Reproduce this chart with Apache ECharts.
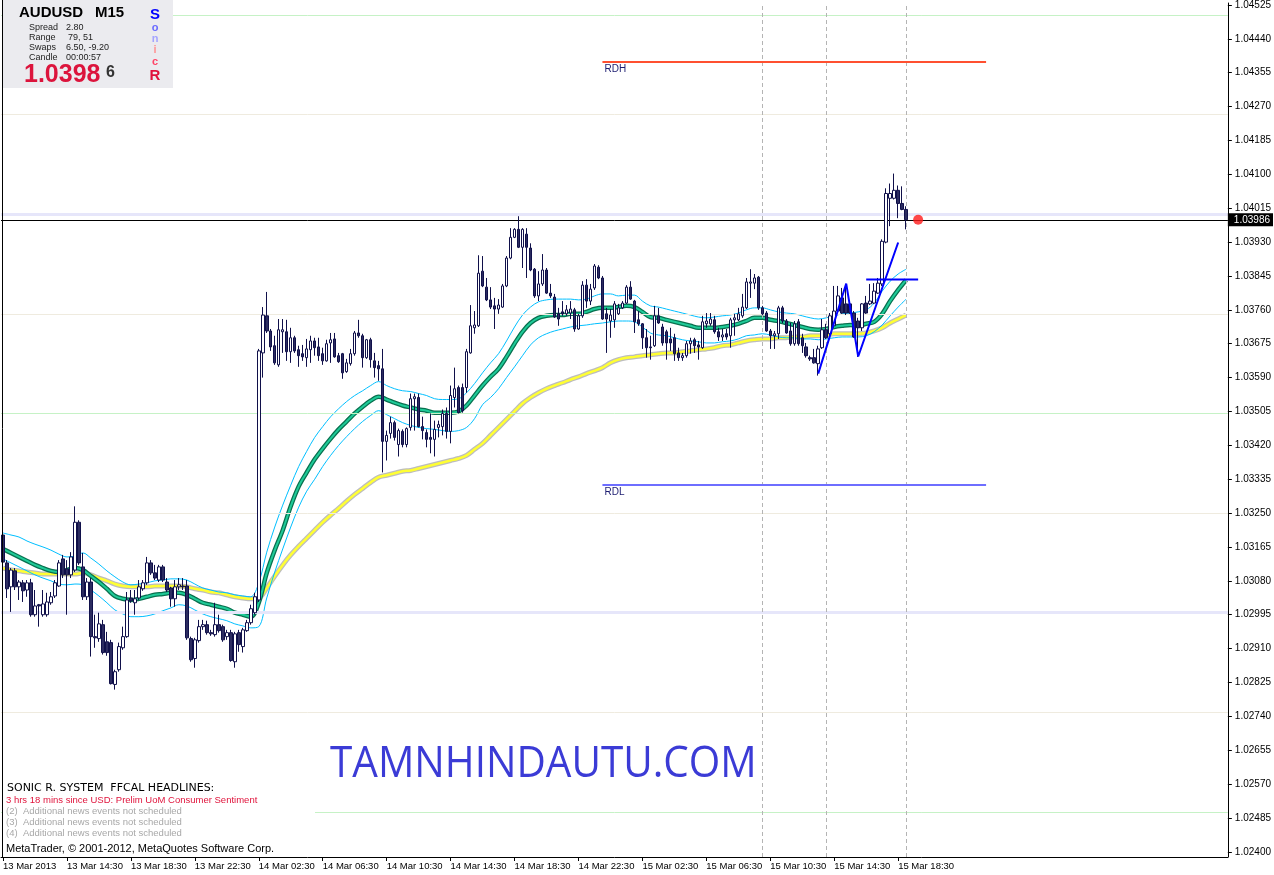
<!DOCTYPE html>
<html><head><meta charset="utf-8">
<script src="https://cdn.jsdelivr.net/npm/echarts@6/dist/echarts.min.js"></script>
<style>html,body{margin:0;padding:0;background:#fff;}#c{width:1274px;height:875px;}</style>
</head><body><div id="c"></div>
<script>
// ---------- DATA ----------
const NUM_SLOTS = 307; // 227 bars + empty shift space on the right
const startDay = 13, startMin = 10 * 60 + 30; // first bar: 13 Mar 2013 10:30, M15
const xTickIndex = [0,16,32,48,64,80,96,112,128,144,160,176,192,208,224];
const xTickLabels = ['13 Mar 2013','13 Mar 14:30','13 Mar 18:30','13 Mar 22:30','14 Mar 02:30','14 Mar 06:30','14 Mar 10:30','14 Mar 14:30','14 Mar 18:30','14 Mar 22:30','15 Mar 02:30','15 Mar 06:30','15 Mar 10:30','15 Mar 14:30','15 Mar 18:30'];
const yTicks = [1.04525,1.04440,1.04355,1.04270,1.04185,1.04100,1.04015,1.03930,1.03845,1.03760,1.03675,1.03590,1.03505,1.03420,1.03335,1.03250,1.03165,1.03080,1.02995,1.02910,1.02825,1.02740,1.02655,1.02570,1.02485,1.02400];

// [open, close, low, high]
const candles = [
[1.03195,1.03127,1.03057,1.03205],[1.03125,1.03060,1.03037,1.03132],[1.03065,1.03107,1.03002,1.03112],[1.03105,1.03065,1.03057,1.03112],[1.03065,1.03077,1.03032,1.03082],
[1.03075,1.03055,1.03027,1.03082],[1.03057,1.03075,1.03040,1.03082],[1.03075,1.02995,1.02990,1.03085],[1.02995,1.03017,1.02990,1.03057],[1.03020,1.03017,1.02965,1.03022],
[1.02995,1.03022,1.02990,1.03057],[1.02995,1.03027,1.02990,1.03050],[1.03025,1.03040,1.03020,1.03052],[1.03042,1.03075,1.03037,1.03082],[1.03067,1.03125,1.03065,1.03132],
[1.03135,1.03095,1.03087,1.03145],[1.03110,1.03095,1.02995,1.03132],[1.03095,1.03140,1.03087,1.03152],[1.03107,1.03227,1.03102,1.03267],[1.03227,1.03125,1.03120,1.03232],
[1.03115,1.03040,1.03032,1.03150],[1.03040,1.03077,1.03032,1.03087],[1.03077,1.02940,1.02890,1.03087],[1.02940,1.02937,1.02912,1.02995],[1.02935,1.02972,1.02927,1.03000],
[1.02970,1.02900,1.02895,1.02982],[1.02927,1.02900,1.02892,1.02952],[1.02925,1.02822,1.02820,1.02932],[1.02820,1.02852,1.02807,1.02857],[1.02857,1.02915,1.02852,1.02925],
[1.02912,1.02940,1.02907,1.02965],[1.02940,1.03032,1.02937,1.03052],[1.03037,1.03030,1.03025,1.03057],[1.03025,1.03035,1.02995,1.03057],[1.03037,1.03065,1.03032,1.03082],
[1.03060,1.03075,1.03055,1.03082],[1.03075,1.03125,1.03070,1.03140],[1.03125,1.03100,1.03095,1.03132],[1.03100,1.03087,1.03082,1.03120],[1.03082,1.03115,1.03077,1.03120],
[1.03115,1.03082,1.03077,1.03120],[1.03077,1.03057,1.03052,1.03087],[1.03062,1.03035,1.03015,1.03065],[1.03035,1.03065,1.03015,1.03082],[1.03065,1.03070,1.03057,1.03087],
[1.03067,1.03065,1.03057,1.03087],[1.03067,1.02937,1.02932,1.03082],[1.02935,1.02882,1.02877,1.02940],[1.02885,1.02932,1.02862,1.02937],[1.02930,1.02965,1.02925,1.02982],
[1.02965,1.02970,1.02957,1.02982],[1.02970,1.02950,1.02945,1.02980],[1.02950,1.02947,1.02942,1.02957],[1.02945,1.02970,1.02940,1.03025],[1.02970,1.02955,1.02950,1.02995],
[1.02965,1.02932,1.02927,1.02970],[1.02940,1.02950,1.02932,1.02957],[1.02950,1.02880,1.02877,1.02957],[1.02877,1.02947,1.02862,1.02952],[1.02950,1.02920,1.02902,1.02957],
[1.02915,1.02957,1.02900,1.02962],[1.02955,1.02975,1.02952,1.02982],[1.02975,1.03010,1.02970,1.03020],[1.03000,1.03040,1.02995,1.03050],[1.03032,1.03657,1.03027,1.03662],
[1.03652,1.03747,1.03590,1.03767],[1.03745,1.03707,1.03702,1.03805],[1.03707,1.03667,1.03657,1.03712],[1.03670,1.03627,1.03622,1.03695],[1.03622,1.03710,1.03617,1.03737],
[1.03705,1.03710,1.03652,1.03737],[1.03705,1.03655,1.03632,1.03735],[1.03655,1.03690,1.03627,1.03715],[1.03690,1.03657,1.03652,1.03695],[1.03660,1.03645,1.03617,1.03670],
[1.03650,1.03642,1.03632,1.03672],[1.03640,1.03662,1.03617,1.03687],[1.03660,1.03682,1.03627,1.03695],[1.03682,1.03665,1.03645,1.03690],[1.03667,1.03645,1.03632,1.03690],
[1.03650,1.03632,1.03622,1.03665],[1.03632,1.03675,1.03630,1.03685],[1.03677,1.03685,1.03627,1.03702],[1.03687,1.03642,1.03640,1.03702],[1.03645,1.03630,1.03627,1.03652],
[1.03650,1.03602,1.03587,1.03652],[1.03605,1.03627,1.03602,1.03637],[1.03625,1.03650,1.03620,1.03662],[1.03650,1.03702,1.03645,1.03707],[1.03702,1.03695,1.03690,1.03735],
[1.03695,1.03640,1.03615,1.03700],[1.03640,1.03685,1.03637,1.03687],[1.03685,1.03635,1.03615,1.03690],[1.03632,1.03615,1.03590,1.03652],[1.03620,1.03612,1.03582,1.03632],
[1.03612,1.03430,1.03352,1.03662],[1.03430,1.03445,1.03382,1.03457],[1.03450,1.03477,1.03437,1.03492],[1.03477,1.03440,1.03432,1.03482],[1.03422,1.03457,1.03392,1.03462],
[1.03455,1.03422,1.03415,1.03460],[1.03422,1.03462,1.03415,1.03465],[1.03465,1.03537,1.03457,1.03550],[1.03537,1.03542,1.03457,1.03550],[1.03540,1.03467,1.03465,1.03550],
[1.03467,1.03457,1.03435,1.03492],[1.03452,1.03435,1.03415,1.03460],[1.03440,1.03435,1.03400,1.03500],[1.03435,1.03460,1.03392,1.03482],[1.03465,1.03472,1.03440,1.03482],
[1.03467,1.03500,1.03445,1.03510],[1.03500,1.03455,1.03437,1.03515],[1.03455,1.03545,1.03425,1.03570],[1.03540,1.03562,1.03515,1.03615],[1.03565,1.03502,1.03500,1.03570],
[1.03565,1.03507,1.03502,1.03575],[1.03565,1.03655,1.03552,1.03662],[1.03652,1.03720,1.03650,1.03772],[1.03715,1.03722,1.03700,1.03757],[1.03720,1.03852,1.03717,1.03897],
[1.03857,1.03820,1.03817,1.03895],[1.03817,1.03785,1.03782,1.03840],[1.03785,1.03767,1.03762,1.03817],[1.03770,1.03762,1.03712,1.03790],[1.03762,1.03772,1.03750,1.03787],
[1.03767,1.03820,1.03765,1.03825],[1.03820,1.03890,1.03817,1.03895],[1.03890,1.03942,1.03887,1.03965],[1.03942,1.03962,1.03940,1.03965],[1.03962,1.03917,1.03915,1.03995],
[1.03917,1.03962,1.03865,1.03965],[1.03950,1.03917,1.03840,1.03965],[1.03915,1.03860,1.03857,1.03927],[1.03862,1.03795,1.03790,1.03865],[1.03795,1.03825,1.03782,1.03857],
[1.03825,1.03860,1.03820,1.03900],[1.03860,1.03802,1.03800,1.03865],[1.03802,1.03795,1.03790,1.03825],[1.03792,1.03742,1.03740,1.03800],[1.03750,1.03737,1.03720,1.03765],
[1.03755,1.03750,1.03745,1.03782],[1.03750,1.03760,1.03745,1.03772],[1.03752,1.03762,1.03737,1.03782],[1.03760,1.03712,1.03705,1.03765],[1.03712,1.03745,1.03710,1.03750],
[1.03745,1.03822,1.03740,1.03832],[1.03822,1.03782,1.03765,1.03837],[1.03782,1.03812,1.03772,1.03825],[1.03815,1.03870,1.03810,1.03875],[1.03867,1.03840,1.03837,1.03872],
[1.03840,1.03737,1.03735,1.03845],[1.03750,1.03737,1.03652,1.03765],[1.03732,1.03747,1.03690,1.03762],[1.03735,1.03775,1.03715,1.03782],[1.03750,1.03765,1.03747,1.03775],
[1.03765,1.03777,1.03762,1.03782],[1.03777,1.03817,1.03775,1.03822],[1.03817,1.03787,1.03785,1.03832],[1.03782,1.03730,1.03702,1.03785],[1.03735,1.03725,1.03720,1.03757],
[1.03725,1.03690,1.03662,1.03727],[1.03690,1.03665,1.03640,1.03712],[1.03667,1.03665,1.03635,1.03695],[1.03670,1.03745,1.03667,1.03770],[1.03745,1.03727,1.03725,1.03765],
[1.03717,1.03677,1.03670,1.03725],[1.03705,1.03677,1.03635,1.03710],[1.03687,1.03677,1.03657,1.03715],[1.03690,1.03650,1.03632,1.03700],[1.03652,1.03640,1.03632,1.03665],
[1.03640,1.03645,1.03632,1.03652],[1.03645,1.03675,1.03640,1.03682],[1.03675,1.03682,1.03650,1.03690],[1.03685,1.03670,1.03652,1.03690],[1.03672,1.03667,1.03635,1.03682],
[1.03665,1.03730,1.03662,1.03745],[1.03725,1.03732,1.03715,1.03752],[1.03725,1.03737,1.03720,1.03752],[1.03735,1.03705,1.03700,1.03745],[1.03705,1.03692,1.03682,1.03715],
[1.03692,1.03697,1.03682,1.03712],[1.03700,1.03692,1.03685,1.03712],[1.03695,1.03735,1.03665,1.03740],[1.03735,1.03740,1.03695,1.03750],[1.03735,1.03750,1.03732,1.03765],
[1.03745,1.03767,1.03740,1.03800],[1.03765,1.03830,1.03762,1.03840],[1.03827,1.03830,1.03790,1.03862],[1.03827,1.03840,1.03812,1.03850],[1.03842,1.03765,1.03760,1.03845],
[1.03765,1.03750,1.03747,1.03770],[1.03752,1.03707,1.03705,1.03757],[1.03707,1.03695,1.03662,1.03712],[1.03695,1.03700,1.03662,1.03707],[1.03700,1.03765,1.03687,1.03770],
[1.03765,1.03732,1.03727,1.03770],[1.03732,1.03702,1.03700,1.03737],[1.03707,1.03675,1.03670,1.03727],[1.03675,1.03725,1.03670,1.03732],[1.03730,1.03675,1.03670,1.03737],
[1.03690,1.03670,1.03652,1.03700],[1.03667,1.03645,1.03640,1.03677],[1.03640,1.03637,1.03632,1.03645],[1.03640,1.03627,1.03625,1.03662],[1.03625,1.03662,1.03595,1.03670],
[1.03665,1.03710,1.03662,1.03737],[1.03710,1.03690,1.03687,1.03725],[1.03700,1.03745,1.03695,1.03752],[1.03720,1.03757,1.03715,1.03820],[1.03757,1.03795,1.03752,1.03820],
[1.03790,1.03752,1.03750,1.03815],[1.03775,1.03752,1.03747,1.03825],[1.03775,1.03752,1.03750,1.03782],[1.03752,1.03692,1.03690,1.03757],[1.03732,1.03715,1.03642,1.03740],
[1.03715,1.03775,1.03707,1.03777],[1.03777,1.03752,1.03750,1.03795],[1.03775,1.03782,1.03772,1.03825],[1.03777,1.03807,1.03775,1.03827],[1.03802,1.03827,1.03800,1.03840],
[1.03825,1.03932,1.03820,1.03937],[1.03930,1.04052,1.03927,1.04065],[1.04040,1.04052,1.03970,1.04077],[1.04040,1.04060,1.04037,1.04102],[1.04060,1.04027,1.03990,1.04072],
[1.04027,1.04012,1.04010,1.04070],[1.04012,1.03986,1.03962,1.04020]
];

// moving averages read at every second bar (bar index = 2 * position)
const maGreen = [1.03160,1.03150,1.03140,1.03130,1.03120,1.03112,1.03105,1.03102,1.03107,1.03112,
1.03107,1.03092,1.03077,1.03060,1.03042,1.03035,1.03032,1.03035,1.03040,1.03045,
1.03047,1.03050,1.03050,1.03045,1.03035,1.03025,1.03020,1.03015,1.03010,1.03000,
1.02995,1.02990,1.03025,1.03100,1.03157,1.03207,1.03267,1.03317,1.03352,1.03385,
1.03412,1.03437,1.03460,1.03480,1.03500,1.03517,1.03532,1.03542,1.03535,1.03527,
1.03520,1.03515,1.03510,1.03507,1.03502,1.03502,1.03502,1.03505,1.03520,1.03545,
1.03570,1.03592,1.03612,1.03642,1.03675,1.03705,1.03727,1.03740,1.03745,1.03747,
1.03747,1.03750,1.03750,1.03755,1.03762,1.03765,1.03765,1.03767,1.03770,1.03767,
1.03755,1.03742,1.03740,1.03735,1.03730,1.03725,1.03720,1.03715,1.03715,1.03715,
1.03717,1.03720,1.03725,1.03732,1.03740,1.03740,1.03735,1.03732,1.03727,1.03722,
1.03717,1.03712,1.03710,1.03712,1.03717,1.03720,1.03722,1.03720,1.03725,1.03730,
1.03750,1.03782,1.03810,1.03835];
const maUpper = [1.03200,1.03195,1.03190,1.03180,1.03172,1.03165,1.03157,1.03147,1.03140,1.03142,
1.03150,1.03137,1.03122,1.03105,1.03090,1.03077,1.03070,1.03072,1.03075,1.03080,
1.03082,1.03085,1.03085,1.03082,1.03072,1.03062,1.03057,1.03052,1.03050,1.03045,
1.03042,1.03040,1.03075,1.03152,1.03215,1.03270,1.03320,1.03367,1.03405,1.03440,
1.03467,1.03492,1.03512,1.03530,1.03545,1.03557,1.03570,1.03580,1.03570,1.03562,
1.03557,1.03555,1.03550,1.03545,1.03537,1.03535,1.03535,1.03537,1.03552,1.03575,
1.03602,1.03627,1.03650,1.03682,1.03717,1.03747,1.03767,1.03780,1.03785,1.03787,
1.03787,1.03787,1.03785,1.03787,1.03795,1.03800,1.03800,1.03795,1.03797,1.03797,
1.03782,1.03770,1.03767,1.03762,1.03757,1.03752,1.03747,1.03742,1.03740,1.03742,
1.03745,1.03747,1.03752,1.03760,1.03765,1.03765,1.03760,1.03755,1.03752,1.03750,
1.03745,1.03740,1.03737,1.03740,1.03745,1.03750,1.03752,1.03755,1.03760,1.03777,
1.03807,1.03832,1.03850,1.03862];
const maLower = [1.03135,1.03125,1.03115,1.03105,1.03095,1.03087,1.03080,1.03072,1.03070,1.03072,
1.03070,1.03057,1.03042,1.03025,1.03007,1.02997,1.02990,1.02990,1.02992,1.02997,
1.03005,1.03012,1.03020,1.03017,1.03007,1.02997,1.02990,1.02985,1.02980,1.02972,
1.02967,1.02962,1.02965,1.03037,1.03102,1.03160,1.03215,1.03265,1.03305,1.03335,
1.03367,1.03395,1.03420,1.03442,1.03462,1.03480,1.03495,1.03507,1.03497,1.03487,
1.03477,1.03470,1.03465,1.03462,1.03460,1.03457,1.03455,1.03457,1.03465,1.03487,
1.03522,1.03540,1.03562,1.03590,1.03617,1.03645,1.03672,1.03690,1.03700,1.03707,
1.03712,1.03717,1.03720,1.03722,1.03725,1.03727,1.03730,1.03732,1.03732,1.03730,
1.03717,1.03702,1.03697,1.03695,1.03690,1.03685,1.03682,1.03680,1.03677,1.03677,
1.03680,1.03682,1.03687,1.03695,1.03697,1.03700,1.03697,1.03692,1.03690,1.03690,
1.03687,1.03687,1.03685,1.03687,1.03690,1.03692,1.03692,1.03692,1.03695,1.03705,
1.03722,1.03745,1.03767,1.03787];
const maYellow = [1.03112,1.03107,1.03105,1.03102,1.03100,1.03097,1.03097,1.03097,1.03097,1.03097,
1.03100,1.03095,1.03087,1.03080,1.03072,1.03067,1.03065,1.03065,1.03065,1.03067,
1.03067,1.03067,1.03067,1.03065,1.03060,1.03057,1.03052,1.03050,1.03045,1.03040,
1.03037,1.03035,1.03037,1.03062,1.03092,1.03120,1.03145,1.03167,1.03187,1.03207,
1.03227,1.03245,1.03262,1.03280,1.03297,1.03312,1.03327,1.03340,1.03345,1.03350,
1.03355,1.03357,1.03362,1.03367,1.03372,1.03377,1.03382,1.03387,1.03395,1.03410,
1.03425,1.03445,1.03465,1.03485,1.03505,1.03525,1.03540,1.03552,1.03562,1.03570,
1.03577,1.03585,1.03592,1.03600,1.03607,1.03615,1.03627,1.03635,1.03640,1.03642,
1.03645,1.03647,1.03650,1.03652,1.03652,1.03655,1.03657,1.03660,1.03662,1.03665,
1.03670,1.03672,1.03677,1.03682,1.03685,1.03687,1.03687,1.03690,1.03690,1.03692,
1.03692,1.03695,1.03695,1.03697,1.03700,1.03700,1.03700,1.03700,1.03702,1.03707,
1.03715,1.03727,1.03737,1.03747];

const zigzagBars = [204, 211, 214, 224];
const zigzagPrices = [1.03600, 1.03826, 1.03643, 1.03929];
const pivotBars = [216, 229];
const pivotPrice = 1.03836;
const bidPrice = 1.03986;
const dotBar = 229;
const rdhPrice = 1.04382, rdlPrice = 1.03320;
const rangeBars = [150, 246];
const levelsRound = [1.0450, 1.0350, 1.0250];
const levelsHalf = [1.0425, 1.0375, 1.0325, 1.0275];
const levelsMajor = [1.0400, 1.0300];
const separatorBars = [190, 206, 226];

// ---------- BUILD ----------
const cats = [];
for (let k = 0; k < NUM_SLOTS; k++) {
  const m = startMin + 15 * k;
  const d = startDay + Math.floor(m / 1440);
  const h = Math.floor((m % 1440) / 60), mi = m % 60;
  cats.push(d + ' Mar ' + String(h).padStart(2, '0') + ':' + String(mi).padStart(2, '0'));
}
const tickSet = new Set(xTickIndex);
const every2 = arr => arr.map((v, j) => [2 * j, v]);
const FONT = '"Liberation Sans", Arial, sans-serif';

const levelLines = [];
levelsRound.forEach(v => levelLines.push({yAxis: v, lineStyle: {color: '#c6f2c6', width: 1, type: 'solid'}}));
levelsHalf.forEach(v => levelLines.push({yAxis: v, lineStyle: {color: '#efebdf', width: 1, type: 'solid'}}));
levelsMajor.forEach(v => levelLines.push({yAxis: v, lineStyle: {color: '#e6e6fa', width: 3, type: 'solid'}}));
separatorBars.forEach(b => levelLines.push({xAxis: cats[b], lineStyle: {color: '#b4b4b4', width: 1, type: [4, 3]}}));

const chart = echarts.init(document.getElementById('c'), null, {renderer: 'canvas', width: 1274, height: 875});
const lineBase = {type: 'line', showSymbol: false, symbol: 'none', smooth: 0.35, silent: true, clip: true};

const option = {
  animation: false,
  backgroundColor: '#ffffff',
  grid: {left: 1, right: 45, top: 2, bottom: 18, containLabel: false},
  xAxis: {
    type: 'category', data: cats, boundaryGap: true,
    axisLine: {show: true, onZero: false, lineStyle: {color: '#000', width: 1}},
    axisTick: {show: true, alignWithLabel: true, length: 4, interval: i => tickSet.has(i), lineStyle: {color: '#000'}},
    axisLabel: {show: true, interval: i => tickSet.has(i), formatter: (v, i) => xTickLabels[xTickIndex.indexOf(i)],
      align: 'left', margin: 4, fontSize: 9.5, fontFamily: FONT, color: '#000', hideOverlap: false},
    splitLine: {show: false}
  },
  yAxis: {
    type: 'value', position: 'right', min: 1.02387, max: 1.04530,
    axisLine: {show: true, onZero: false, lineStyle: {color: '#000', width: 1}},
    axisTick: {show: true, length: 4, customValues: yTicks, lineStyle: {color: '#000'}},
    axisLabel: {customValues: yTicks, formatter: v => v.toFixed(5), margin: 7, fontSize: 10, fontFamily: FONT, color: '#000'},
    splitLine: {show: false}
  },
  series: [
    {type: 'line', name: 'levels', data: [], z: 0, silent: true,
      markLine: {silent: true, precision: 6, symbol: ['none', 'none'], label: {show: false}, data: levelLines, animation: false}},
    Object.assign({}, lineBase, {name: 'ema89shadow', data: every2(maYellow), z: 2, lineStyle: {color: '#bdbdbd', width: 5}}),
    Object.assign({}, lineBase, {name: 'ema89', data: every2(maYellow), z: 3, lineStyle: {color: '#ffff33', width: 2.5}}),
    Object.assign({}, lineBase, {name: 'emaHigh', data: every2(maUpper), z: 3, lineStyle: {color: '#00bfff', width: 1}}),
    Object.assign({}, lineBase, {name: 'emaLow', data: every2(maLower), z: 3, lineStyle: {color: '#00bfff', width: 1}}),
    Object.assign({}, lineBase, {name: 'ema34border', data: every2(maGreen), z: 3, lineStyle: {color: '#08704f', width: 4.5}}),
    Object.assign({}, lineBase, {name: 'ema34', data: every2(maGreen), z: 4, lineStyle: {color: '#1fcb98', width: 2}}),
    {type: 'candlestick', name: 'AUDUSD', data: candles, barWidth: 3, z: 5, silent: true,
      itemStyle: {color: '#ffffff', color0: '#2c2c60', borderColor: '#10104a', borderColor0: '#10104a', borderWidth: 1}},
    {type: 'line', name: 'bid', data: [], z: 6, silent: true,
      markLine: {silent: true, precision: 6, symbol: ['none', 'none'], animation: false,
        data: [{yAxis: bidPrice, lineStyle: {color: '#000', width: 1, type: 'solid'},
          label: {show: true, position: 'end', formatter: () => bidPrice.toFixed(5), color: '#fff', backgroundColor: '#000',
            padding: [2, 3, 1, 6], fontSize: 10, fontFamily: FONT, distance: 0}}]}},
    {type: 'line', name: 'range', data: [], z: 6, silent: true,
      markLine: {silent: true, precision: 6, symbol: ['none', 'none'], animation: false, data: [
        [{coord: [cats[rangeBars[0]], rdhPrice], lineStyle: {color: '#ff5030', width: 2, type: 'solid'},
          label: {show: true, position: 'insideStartBottom', formatter: 'RDH', color: '#1c1c70', fontSize: 10, fontFamily: FONT, distance: [2, 2]}},
         {coord: [cats[rangeBars[1]], rdhPrice]}],
        [{coord: [cats[rangeBars[0]], rdlPrice], lineStyle: {color: '#6e6eff', width: 2, type: 'solid'},
          label: {show: true, position: 'insideStartBottom', formatter: 'RDL', color: '#1c1c70', fontSize: 10, fontFamily: FONT, distance: [2, 2]}},
         {coord: [cats[rangeBars[1]], rdlPrice]}]
      ]}},
    {type: 'line', name: 'zigzag', data: zigzagBars.map((b, i) => [b, zigzagPrices[i]]), z: 7, symbol: 'none', silent: true,
      lineStyle: {color: '#0000ff', width: 2}},
    {type: 'line', name: 'pivot', data: pivotBars.map(b => [b, pivotPrice]), z: 7, symbol: 'none', silent: true,
      lineStyle: {color: '#0000ff', width: 2}},
    {type: 'scatter', name: 'dot', data: [[dotBar, bidPrice]], z: 8, symbolSize: 10, silent: true,
      itemStyle: {color: '#ff1a1a'}}
  ],
  graphic: [
    {type: 'rect', shape: {x: 3, y: 779, width: 312, height: 66}, style: {fill: '#ffffff'}, z: 50, silent: true},
    {type: 'line', shape: {x1: 2.5, y1: 0, x2: 2.5, y2: 857}, style: {stroke: '#000', lineWidth: 1}, z: 60, silent: true},
    {type: 'rect', shape: {x: 3, y: 0, width: 170, height: 88}, style: {fill: '#ebebef'}, z: 60, silent: true},
    {type: 'text', x: 19, y: 13, z: 61, style: {text: 'AUDUSD', font: 'bold 15px ' + FONT, fill: '#000', textVerticalAlign: 'middle'}},
    {type: 'text', x: 95, y: 13, z: 61, style: {text: 'M15', font: 'bold 15px ' + FONT, fill: '#000', textVerticalAlign: 'middle'}},
    {type: 'text', x: 29, y: 28, z: 61, style: {text: 'Spread', font: '9px ' + FONT, fill: '#222', textVerticalAlign: 'middle'}},
    {type: 'text', x: 66, y: 28, z: 61, style: {text: '2.80', font: '9px ' + FONT, fill: '#222', textVerticalAlign: 'middle'}},
    {type: 'text', x: 29, y: 38, z: 61, style: {text: 'Range', font: '9px ' + FONT, fill: '#222', textVerticalAlign: 'middle'}},
    {type: 'text', x: 68, y: 38, z: 61, style: {text: '79, 51', font: '9px ' + FONT, fill: '#222', textVerticalAlign: 'middle'}},
    {type: 'text', x: 29, y: 48, z: 61, style: {text: 'Swaps', font: '9px ' + FONT, fill: '#222', textVerticalAlign: 'middle'}},
    {type: 'text', x: 66, y: 48, z: 61, style: {text: '6.50, -9.20', font: '9px ' + FONT, fill: '#222', textVerticalAlign: 'middle'}},
    {type: 'text', x: 29, y: 58, z: 61, style: {text: 'Candle', font: '9px ' + FONT, fill: '#222', textVerticalAlign: 'middle'}},
    {type: 'text', x: 66, y: 58, z: 61, style: {text: '00:00:57', font: '9px ' + FONT, fill: '#222', textVerticalAlign: 'middle'}},
    {type: 'text', x: 24, y: 75, z: 61, style: {text: '1.0398', font: 'bold 25px ' + FONT, fill: '#dc143c', textVerticalAlign: 'middle'}},
    {type: 'text', x: 106, y: 73, z: 61, style: {text: '6', font: 'bold 16px ' + FONT, fill: '#333333', textVerticalAlign: 'middle'}},
    {type: 'text', x: 155, y: 15, z: 61, style: {text: 'S', font: 'bold 15px ' + FONT, fill: '#0000ff', textAlign: 'center', textVerticalAlign: 'middle'}},
    {type: 'text', x: 155, y: 28, z: 61, style: {text: 'o', font: 'bold 11px ' + FONT, fill: '#6a6aff', textAlign: 'center', textVerticalAlign: 'middle'}},
    {type: 'text', x: 155, y: 39, z: 61, style: {text: 'n', font: 'bold 11px ' + FONT, fill: '#a4a4ff', textAlign: 'center', textVerticalAlign: 'middle'}},
    {type: 'text', x: 155, y: 50, z: 61, style: {text: 'i', font: 'bold 11px ' + FONT, fill: '#ff9494', textAlign: 'center', textVerticalAlign: 'middle'}},
    {type: 'text', x: 155, y: 62, z: 61, style: {text: 'c', font: 'bold 11px ' + FONT, fill: '#ff4466', textAlign: 'center', textVerticalAlign: 'middle'}},
    {type: 'text', x: 155, y: 76, z: 61, style: {text: 'R', font: 'bold 15px ' + FONT, fill: '#e0103c', textAlign: 'center', textVerticalAlign: 'middle'}},
    {type: 'text', x: 7, y: 788, z: 61, style: {text: 'SONIC R. SYSTEM  FFCAL HEADLINES:', font: '11px "DejaVu Sans", sans-serif', fill: '#000', textVerticalAlign: 'middle'}},
    {type: 'text', x: 6, y: 800, z: 61, style: {text: '3 hrs 18 mins since USD: Prelim UoM Consumer Sentiment', font: '9.5px ' + FONT, fill: '#e0143c', textVerticalAlign: 'middle'}},
    {type: 'text', x: 6, y: 811, z: 61, style: {text: '(2)  Additional news events not scheduled', font: '9.5px ' + FONT, fill: '#a8a8a8', textVerticalAlign: 'middle'}},
    {type: 'text', x: 6, y: 822, z: 61, style: {text: '(3)  Additional news events not scheduled', font: '9.5px ' + FONT, fill: '#a8a8a8', textVerticalAlign: 'middle'}},
    {type: 'text', x: 6, y: 833, z: 61, style: {text: '(4)  Additional news events not scheduled', font: '9.5px ' + FONT, fill: '#a8a8a8', textVerticalAlign: 'middle'}},
    {type: 'text', x: 6, y: 849, z: 61, style: {text: 'MetaTrader, \u00a9 2001-2012, MetaQuotes Software Corp.', font: '11px ' + FONT, fill: '#000', textVerticalAlign: 'middle'}},
    {type: 'text', x: 330, y: 764, z: 61, scaleX: 0.92, style: {text: 'TAMNHINDAUTU.COM', font: '44px "Open Sans", sans-serif', fill: '#3b3bd6', textVerticalAlign: 'middle'}}
  ]
};
chart.setOption(option);
</script>
</body></html>
